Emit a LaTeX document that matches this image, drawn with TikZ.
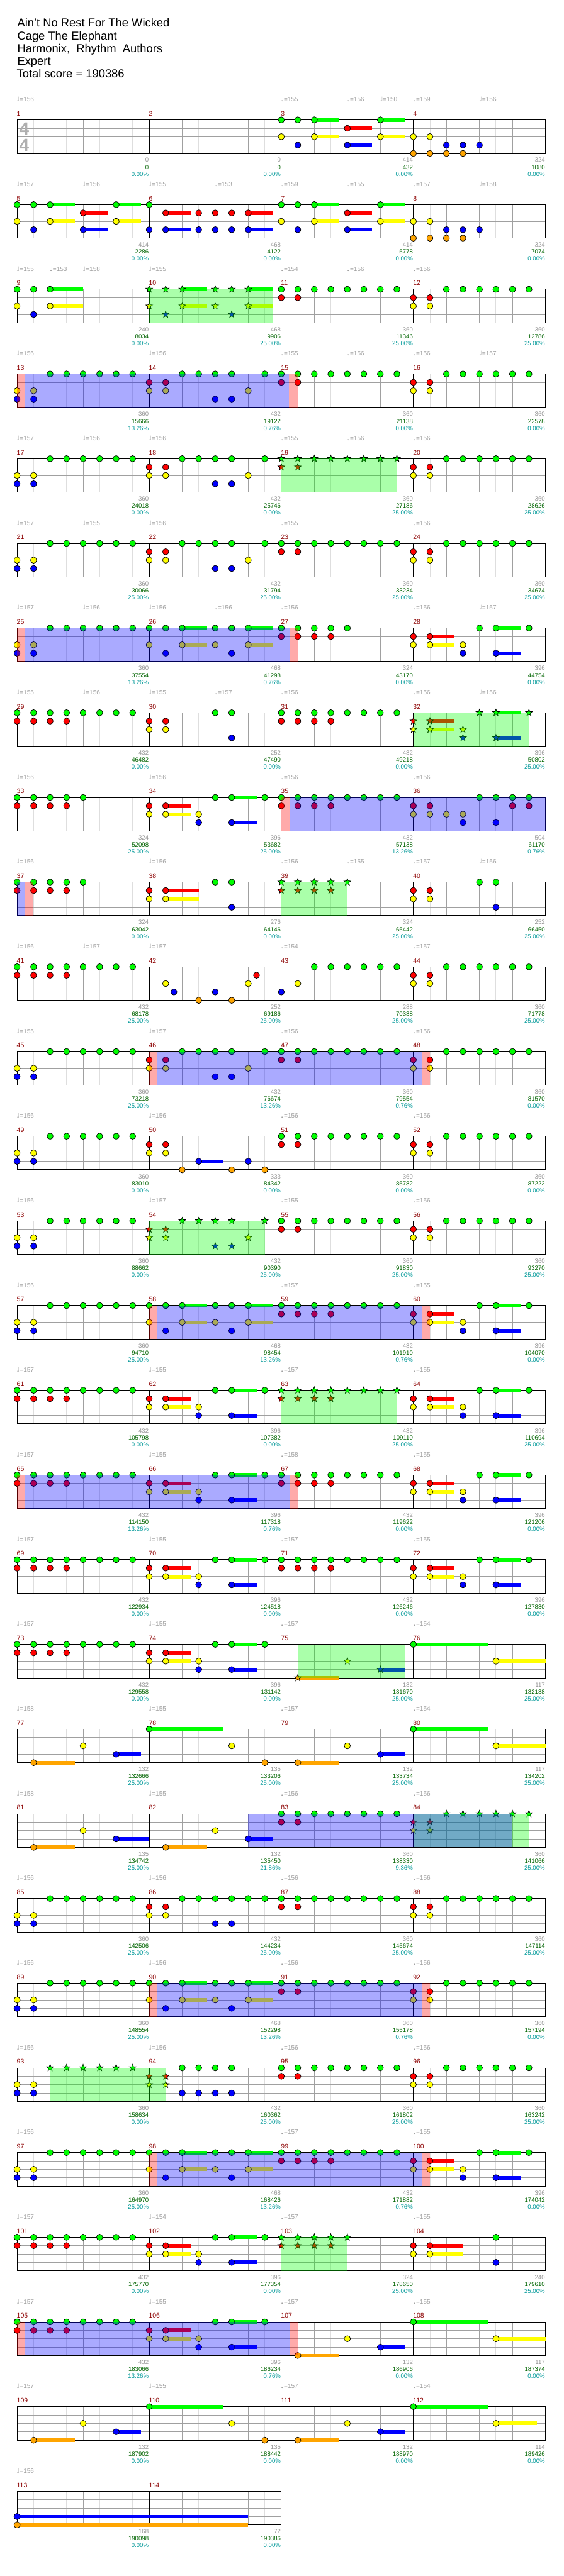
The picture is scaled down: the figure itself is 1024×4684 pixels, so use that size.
\documentclass[tikz,border=0pt]{standalone}
\usepackage{fontspec}
\setmainfont{Liberation Sans}
\newfontfamily\symfont{DejaVu Sans}
\definecolor{lane0}{RGB}{0,255,0}
\definecolor{lane1}{RGB}{255,0,0}
\definecolor{lane2}{RGB}{255,255,0}
\definecolor{lane3}{RGB}{0,0,255}
\definecolor{lane4}{RGB}{255,165,0}
\definecolor{mnumred}{RGB}{140,0,0}
\definecolor{tempogray}{RGB}{160,160,160}
\definecolor{scoregray}{RGB}{150,150,150}
\definecolor{totgreen}{RGB}{0,100,0}
\definecolor{pctcyan}{RGB}{0,153,153}
\definecolor{gridgray}{RGB}{160,160,160}
\definecolor{gridlight}{RGB}{222,222,222}
\definecolor{tsgray}{RGB}{175,175,175}

% measure origin (x of bar start, y of top lane)
\newif\ifstarred
\newcommand\meas[1]{\pgfmathsetmacro\mx{31+240*mod(#1-1,4)}\pgfmathsetmacro\my{218+154*floor((#1-1)/4)}}
% note: position (eighths), lane
\newcommand\nt[2]{\ifstarred
  \filldraw[notedraw,fill=lane#2] (\mx+30*#1,\my+15.25*#2) +(90:6.5pt) -- +(126:2.7pt) -- +(162:6.5pt)
    -- +(198:2.7pt) -- +(234:6.5pt) -- +(270:2.7pt) -- +(306:6.5pt) -- +(342:2.7pt) -- +(18:6.5pt)
    -- +(54:2.7pt) -- cycle;
  \else
  \filldraw[notedraw,fill=lane#2] (\mx+30*#1,\my+15.25*#2) circle[radius=5.6pt];
  \fi}
% held note: position, lane, length
\newcommand\nts[3]{\fill[lane#2] (\mx+30*#1,\my+15.25*#2-3.3) rectangle ++(30*#3,6.6);\nt{#1}{#2}}
\newcommand\grun[3]{\foreach \k in {#1,...,#2}{\nt{\k}{#3}}}
% repeated bars
\newcommand\pA{\nt02\nt12\nt03\nt13\grun270}
\newcommand\pB{\nt01\nt11\nt02\nt12\grun270}
\newcommand\pC{\grun070\nt01\nt11}
\newcommand\pD{\grun070\grun031}
\newcommand\pE{\nt01\nt11\nt02\nt12\grun250\nt43\nt53\nt62\nt70}
\newcommand\pF{\nt00\nt10\nts20{1.5}\nt40\nt50\nts60{1.5}\nt02\nts22{1.5}\nt42\nts62{1.5}\nt13\nt53}
\newcommand\pH{\nt00\nt10\nts20{1.5}\nts60{1.5}\nts41{1.5}\nt02\nts22{1.5}\nts62{1.5}\nt13\nts43{1.5}}
\newcommand\pK{\nt02\nt12\grun034\nt23\nt33\nt43}
\newcommand\pP{\nt01\nts11{1.5}\nt02\nts12{1.5}\nt32\nt33\nts53{1.5}\nt40\nts50{1.5}\nt70}
\newcommand\pQ{\nts14{2.5}\nt42\nts63{1.5}}
% star power / activation band: row, x1, x2, colour
\newcommand\spz[4]{\fill[#4,fill opacity=0.333] (#2,218+154*#1) rectangle (#3,279+154*#1);}
% staff: top y, width
\newcommand\staffgrid[2]{%
  \foreach \k in {30,90,...,#2} \draw[gridlight] (31+\k,#1) -- ++(0,61);
  \foreach \k in {60,120,...,#2} \draw[gridgray] (31+\k,#1) -- ++(0,61);
  \foreach \l in {1,2,3} \draw[gridgray] (31,#1+15.25*\l) -- ++(#2,0);
  \foreach \k in {0,240,...,#2} \draw[black] (31+\k,#1) -- ++(0,61);
  \draw[black,line width=1.2pt] (31,#1) rectangle ++(#2,61);}

\begin{document}
\begin{tikzpicture}[x=1pt,y=-1pt,line width=1pt,
  notedraw/.style={draw=black,line width=0.8pt},
  ttl/.style={anchor=base west,inner sep=0pt,font=\fontsize{21}{23}\selectfont},
  mnum/.style={anchor=base west,inner sep=0pt,font=\fontsize{12}{12}\selectfont,text=mnumred},
  tmp/.style={anchor=base west,inner sep=0pt,font=\fontsize{11.5}{12}\selectfont,text=tempogray},
  scr/.style={anchor=base east,inner sep=0pt,font=\fontsize{11}{12}\selectfont},
  tsig/.style={anchor=base,inner sep=0pt,font=\fontsize{32}{32}\selectfont\bfseries,text=tsgray}
]
  \useasboundingbox (0,0) rectangle (1024,4684);
  \fill[white] (0,0) rectangle (1024,4684);
  % Header
  \node[ttl] (song) at (31,49) {Ain't No Rest For The Wicked};
  \node[ttl] (artist) at (31,72.3) {Cage The Elephant};
  \node[ttl] (charter) at (31,95.6) {Harmonix, \ Rhythm \ Authors};
  \node[ttl] (diff) at (31,118.5) {Expert};
  \node[ttl] (total) at (30,141.7) {Total score = 190386};
  % Staves
  \foreach \rw in {0,...,27} {\staffgrid{218+154*\rw}{960}}
  \staffgrid{4530}{480}
  \node[tsig] (tsa) at (44,245) {4};
  \node[tsig] (tsb) at (44,275) {4};
  % Notes
  \meas{3}\pH \meas{4}\pK \meas{5}\pH
  \meas{6}\nt00\nts11{1.5}\nt31\nt41\nt51\nts61{1.5}\nt03\nts13{1.5}\nt33\nt43\nt53\nts63{1.5}
  \meas{7}\pH \meas{8}\pK
  \meas{9}\nt00\nt10\nts20{2}\nt02\nts22{2}\nt13
  \meas{10}\starredtrue\pF\starredfalse
  \meas{11}\pC \meas{12}\pB
  \meas{13}\pA \meas{14}\pE \meas{15}\pC \meas{16}\pB
  \meas{17}\pA \meas{18}\pE \meas{19}\starredtrue\pC\starredfalse \meas{20}\pB
  \meas{21}\pA \meas{22}\pE \meas{23}\pC \meas{24}\pB
  \meas{25}\pA \meas{26}\pF \meas{27}\grun040\grun031 \meas{28}\pP
  \meas{29}\pD \meas{30}\nt01\nt11\nt02\nt12\nt40\nt50\nt53
  \meas{31}\pD \meas{32}\starredtrue\pP\starredfalse
  \meas{33}\grun040\grun031 \meas{34}\pP \meas{35}\pD
  \meas{36}\nt01\nt11\grun032\nt33\nt53\grun470\nt61\nt71
  \meas{37}\grun040\grun031
  \meas{38}\nt01\nts11{2}\nt02\nts12{2}\nt40\nt50\nt53
  \meas{39}\starredtrue\grun040\grun031\starredfalse
  \meas{40}\nt01\nt11\nt02\nt12\nt40\nt50\nt53
  \meas{41}\pD
  \meas{42}\nt12\nt{1.5}3\nt34\nt43\nt54\nt62\nt{6.5}1
  \meas{43}\nt03\nt12\grun270 \meas{44}\pB
  \meas{45}\pA \meas{46}\pE \meas{47}\pC \meas{48}\pB
  \meas{49}\pA \meas{50}\nt01\nt11\nt02\nt12\nt24\nts33{1.5}\nt54\nt63\nt74
  \meas{51}\pC \meas{52}\pB
  \meas{53}\pA \meas{54}\starredtrue\pE\starredfalse \meas{55}\pC \meas{56}\pB
  \meas{57}\pA \meas{58}\pF \meas{59}\pD \meas{60}\pP
  \meas{61}\pD \meas{62}\pP \meas{63}\starredtrue\pD\starredfalse \meas{64}\pP
  \meas{65}\pD \meas{66}\pP \meas{67}\pD \meas{68}\pP
  \meas{69}\pD \meas{70}\pP \meas{71}\pD \meas{72}\pP
  \meas{73}\pD \meas{74}\pP \meas{75}\starredtrue\pQ\starredfalse
  \meas{76}\nts00{4.5}\nts52{3}
  \meas{77}\pQ \meas{78}\nts00{4.5}\nt52\nt74 \meas{79}\pQ \meas{80}\nts00{4.5}\nts52{3}
  \meas{81}\nts14{2.5}\nt42\nts63{2} \meas{82}\pQ \meas{83}\pC
  \meas{84}\starredtrue\pB\starredfalse
  \meas{85}\pA \meas{86}\nt01\nt11\nt02\nt12\grun270\nt43\nt53 \meas{87}\pC \meas{88}\pB
  \meas{89}\pA \meas{90}\pF \meas{91}\pC \meas{92}\pB
  \meas{93}\nt02\nt12\nt03\nt13\starredtrue\grun270\starredfalse
  \meas{94}\starredtrue\nt01\nt11\nt02\nt12\starredfalse\grun250\grun253
  \meas{95}\pC \meas{96}\pB
  \meas{97}\pA \meas{98}\pF \meas{99}\pD \meas{100}\pP
  \meas{101}\pD \meas{102}\pP \meas{103}\starredtrue\grun040\grun031\starredfalse
  \meas{104}\nt01\nts11{2}\nt02\nts12{2}\nt50\nt53
  \meas{105}\pD \meas{106}\pP \meas{107}\pQ \meas{108}\nts00{4.5}\nts52{3}
  \meas{109}\pQ \meas{110}\nts00{4.5}\nt52\nt74 \meas{111}\pQ \meas{112}\nts00{4.5}\nts52{2.5}
  \meas{113}\nts03{14}\nts04{14}
  % Star power phrases and activations
  \spz{2}{271}{496}{lane0}
  \spz{3}{31}{45}{lane1} \spz{3}{45}{525}{lane3} \spz{3}{525}{541}{lane1}
  \spz{4}{511}{721}{lane0}
  \spz{6}{31}{45}{lane1} \spz{6}{45}{526}{lane3} \spz{6}{526}{541}{lane1}
  \spz{7}{751}{961}{lane0}
  \spz{8}{511}{526}{lane1} \spz{8}{526}{991}{lane3}
  \spz{9}{31}{45}{lane3} \spz{9}{45}{61}{lane1}
  \spz{9}{511}{631}{lane0}
  \spz{11}{271}{285}{lane1} \spz{11}{285}{766}{lane3} \spz{11}{766}{781}{lane1}
  \spz{13}{271}{481}{lane0}
  \spz{14}{271}{285}{lane1} \spz{14}{285}{766}{lane3} \spz{14}{766}{781}{lane1}
  \spz{15}{511}{721}{lane0}
  \spz{16}{31}{45}{lane1} \spz{16}{45}{526}{lane3} \spz{16}{526}{541}{lane1}
  \spz{18}{541}{736}{lane0}
  \spz{20}{751}{961}{lane0} \spz{20}{451}{931}{lane3}
  \spz{22}{271}{285}{lane1} \spz{22}{285}{766}{lane3} \spz{22}{766}{781}{lane1}
  \spz{23}{91}{301}{lane0}
  \spz{24}{271}{285}{lane1} \spz{24}{285}{766}{lane3} \spz{24}{766}{781}{lane1}
  \spz{25}{511}{631}{lane0}
  \spz{26}{31}{45}{lane1} \spz{26}{45}{526}{lane3} \spz{26}{526}{541}{lane1}
  % Bar numbers
  \foreach \m in {1,...,114} {
    \pgfmathtruncatemacro\rw{(\m-1)/4}
    \pgfmathtruncatemacro\cl{\m-1-4*\rw}
    \node[mnum] (bar\m) at (30+240*\cl,211+154*\rw) {\m};
  }
  % Tempo marks: row/beat/bpm
  \foreach \rw/\bt/\bpm in {0/0/156,0/8/155,0/10/156,0/11/150,0/12/159,0/14/156,
    1/0/157,1/2/156,1/4/155,1/6/153,1/8/159,1/10/155,1/12/157,1/14/158,
    2/0/155,2/1/153,2/2/158,2/4/155,2/8/154,2/10/156,2/12/156,
    3/0/156,3/4/156,3/8/155,3/10/156,3/12/156,3/14/157,
    4/0/157,4/2/156,4/4/156,4/8/155,4/10/156,4/12/156,
    5/0/157,5/2/155,5/4/156,5/8/155,5/12/156,
    6/0/157,6/2/156,6/4/156,6/6/156,6/8/156,6/12/156,6/14/157,
    7/0/155,7/2/156,7/4/155,7/6/157,7/8/156,7/12/156,7/14/156,
    8/0/156,8/4/156,8/8/156,8/12/156,
    9/0/156,9/4/156,9/8/156,9/10/155,9/12/157,9/14/156,
    10/0/156,10/2/157,10/4/157,10/8/154,10/12/157,
    11/0/155,11/4/157,11/8/156,11/12/156,
    12/0/156,12/4/156,12/8/156,12/12/156,
    13/0/156,13/4/157,13/8/155,13/12/156,
    14/0/156,14/8/157,14/12/155,
    15/0/157,15/4/155,15/8/157,15/12/155,
    16/0/157,16/4/155,16/8/158,16/12/155,
    17/0/157,17/4/155,17/8/157,17/12/155,
    18/0/157,18/4/155,18/8/157,18/12/154,
    19/0/158,19/4/155,19/8/157,19/12/154,
    20/0/158,20/4/155,20/8/156,20/12/156,
    21/0/156,21/4/156,21/8/156,21/12/156,
    22/0/156,22/4/156,22/8/156,22/12/156,
    23/0/156,23/4/156,23/8/156,23/12/156,
    24/0/156,24/8/157,24/12/155,
    25/0/157,25/4/154,25/8/157,25/12/155,
    26/0/157,26/4/155,26/8/157,26/12/155,
    27/0/157,27/4/155,27/8/157,27/12/154,
    28/0/156} {
    \node[tmp] (tp-\rw-\bt) at (30+60*\bt,185+154*\rw) {{\symfont ♩}=\bpm};
  }
  % Scores under each bar: bar/points/total/percent
  \foreach \m/\pts/\tot/\pct in {1/0/0/0.00,2/0/0/0.00,3/414/432/0.00,4/324/1080/0.00,
    5/414/2286/0.00,6/468/4122/0.00,7/414/5778/0.00,8/324/7074/0.00,
    9/240/8034/0.00,10/468/9906/25.00,11/360/11346/25.00,12/360/12786/25.00,
    13/360/15666/13.26,14/432/19122/0.76,15/360/21138/0.00,16/360/22578/0.00,
    17/360/24018/0.00,18/432/25746/0.00,19/360/27186/25.00,20/360/28626/25.00,
    21/360/30066/25.00,22/432/31794/25.00,23/360/33234/25.00,24/360/34674/25.00,
    25/360/37554/13.26,26/468/41298/0.76,27/324/43170/0.00,28/396/44754/0.00,
    29/432/46482/0.00,30/252/47490/0.00,31/432/49218/0.00,32/396/50802/25.00,
    33/324/52098/25.00,34/396/53682/25.00,35/432/57138/13.26,36/504/61170/0.76,
    37/324/63042/0.00,38/276/64146/0.00,39/324/65442/25.00,40/252/66450/25.00,
    41/432/68178/25.00,42/252/69186/25.00,43/288/70338/25.00,44/360/71778/25.00,
    45/360/73218/25.00,46/432/76674/13.26,47/360/79554/0.76,48/360/81570/0.00,
    49/360/83010/0.00,50/333/84342/0.00,51/360/85782/0.00,52/360/87222/0.00,
    53/360/88662/0.00,54/432/90390/25.00,55/360/91830/25.00,56/360/93270/25.00,
    57/360/94710/25.00,58/468/98454/13.26,59/432/101910/0.76,60/396/104070/0.00,
    61/432/105798/0.00,62/396/107382/0.00,63/432/109110/25.00,64/396/110694/25.00,
    65/432/114150/13.26,66/396/117318/0.76,67/432/119622/0.00,68/396/121206/0.00,
    69/432/122934/0.00,70/396/124518/0.00,71/432/126246/0.00,72/396/127830/0.00,
    73/432/129558/0.00,74/396/131142/0.00,75/132/131670/25.00,76/117/132138/25.00,
    77/132/132666/25.00,78/135/133206/25.00,79/132/133734/25.00,80/117/134202/25.00,
    81/135/134742/25.00,82/132/135450/21.86,83/360/138330/9.36,84/360/141066/25.00,
    85/360/142506/25.00,86/432/144234/25.00,87/360/145674/25.00,88/360/147114/25.00,
    89/360/148554/25.00,90/468/152298/13.26,91/360/155178/0.76,92/360/157194/0.00,
    93/360/158634/0.00,94/432/160362/25.00,95/360/161802/25.00,96/360/163242/25.00,
    97/360/164970/25.00,98/468/168426/13.26,99/432/171882/0.76,100/396/174042/0.00,
    101/432/175770/0.00,102/396/177354/0.00,103/324/178650/25.00,104/240/179610/25.00,
    105/432/183066/13.26,106/396/186234/0.76,107/132/186906/0.00,108/117/187374/0.00,
    109/132/187902/0.00,110/135/188442/0.00,111/132/188970/0.00,112/114/189426/0.00,
    113/168/190098/0.00,114/72/190386/0.00} {
    \pgfmathtruncatemacro\rw{(\m-1)/4}
    \pgfmathtruncatemacro\cl{\m-4*\rw}
    \node[scr,text=scoregray] (pts\m) at (30.5+240*\cl,295+154*\rw) {\pts};
    \node[scr,text=totgreen] (tot\m) at (30.5+240*\cl,307.7+154*\rw) {\tot};
    \node[scr,text=pctcyan] (pct\m) at (30.5+240*\cl,320.3+154*\rw) {\pct\%};
  }
\end{tikzpicture}
\end{document}
